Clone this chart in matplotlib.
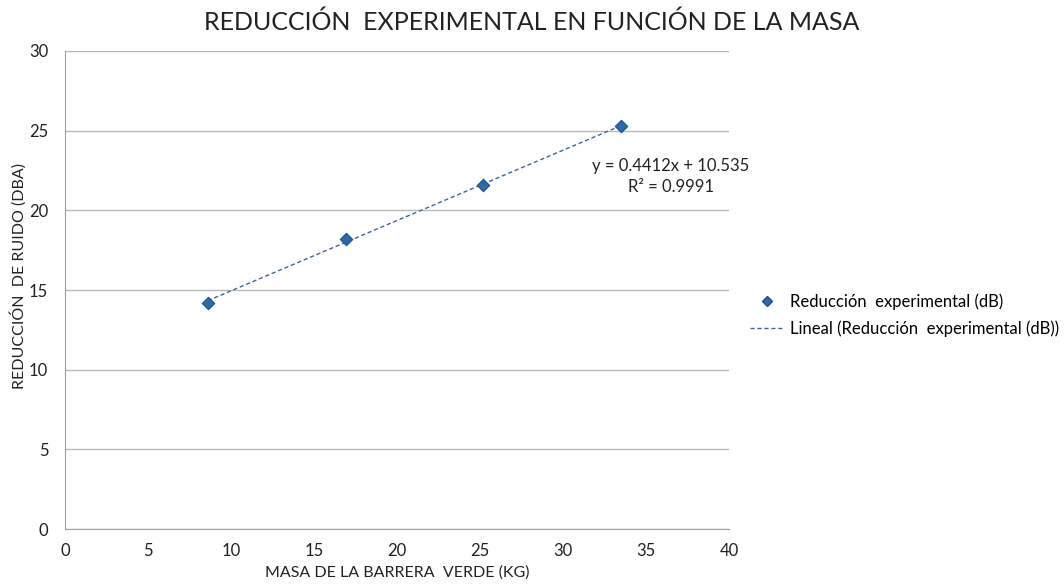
import matplotlib
matplotlib.use("Agg")
import matplotlib.pyplot as plt
from matplotlib.lines import Line2D
import numpy as np

plt.rcParams['font.family'] = ['Lato', 'DejaVu Sans']

masa = [8.6, 16.9, 25.2, 33.5]
reduccion = [14.2, 18.2, 21.6, 25.3]
slope, intercept = 0.4412, 10.535
eq_text = "y = 0.4412x + 10.535"
r2_text = "R² = 0.9991"
x_ticks = [0, 5, 10, 15, 20, 25, 30, 35, 40]
y_ticks = [0, 5, 10, 15, 20, 25, 30]

fig = plt.figure(figsize=(10.64, 5.88), dpi=100)
ax = fig.add_axes([0.0611, 0.1003, 0.6240, 0.8130])

ax.set_xlim(0, 40)
ax.set_ylim(0, 30)
ax.set_xticks(x_ticks)
ax.set_yticks(y_ticks)
ax.yaxis.grid(True, color='#b8b8b8', linewidth=1.0)
ax.set_axisbelow(True)
for s in ['top', 'right']:
    ax.spines[s].set_visible(False)
for s in ['left', 'bottom']:
    ax.spines[s].set_color('#a0a0a0')
ax.tick_params(length=0, labelsize=12, colors='#222222')
ax.tick_params(axis='x', pad=10)
ax.tick_params(axis='y', pad=12)

xt = np.array([min(masa), max(masa)])
ax.plot(xt, slope * xt + intercept, linestyle=(0, (3, 2)), color='#3d6796', linewidth=1.0, zorder=2)
ax.scatter(masa, reduccion, marker='D', s=40, color='#2e6aa8', edgecolor='#1f4f80', linewidth=0.8, zorder=3)

ax.set_xlabel("MASA DE LA BARRERA  VERDE (KG)", fontsize=11.5, labelpad=5, color='#222222')
ax.set_ylabel("REDUCCIÓN  DE RUIDO (DBA)", fontsize=11.5, color='#222222')
ax.yaxis.set_label_coords(-0.058, 0.53)

fig.text(0.5, 0.962, "REDUCCIÓN  EXPERIMENTAL EN FUNCIÓN DE LA MASA", ha='center', va='center', fontsize=18, color='#222222')

fig.text(671/1064, 1-166/588, eq_text, ha='center', va='center', fontsize=12, color='#222222')
fig.text(671/1064, 1-187/588, r2_text, ha='center', va='center', fontsize=12, color='#222222')

handles = [
    Line2D([], [], marker='D', linestyle='none', markersize=5.5, color='#2e6aa8', markeredgecolor='#1f4f80'),
    Line2D([], [], linestyle=(0, (3, 2)), color='#3d6796', linewidth=1.0),
]
labels = ["Reducción  experimental (dB)", "Lineal (Reducción  experimental (dB))"]
fig.legend(handles, labels, loc='center left', bbox_to_anchor=(735/1064, 1-315/588), frameon=False,
           fontsize=12, handlelength=2.0, handletextpad=0.4, labelspacing=0.6)

fig.savefig("out.png", dpi=100)
